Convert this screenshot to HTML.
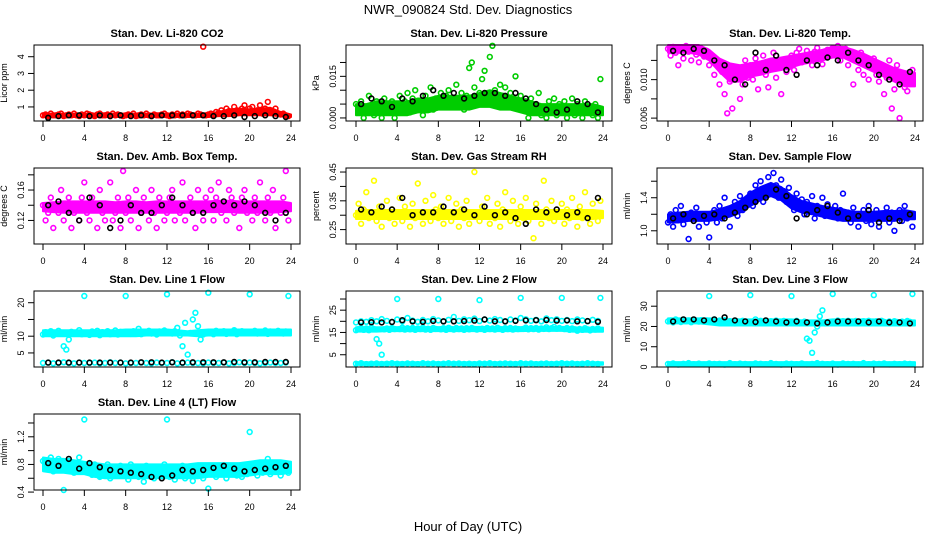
<!DOCTYPE html>
<html><head><meta charset="utf-8"><style>
html,body{margin:0;padding:0;background:#fff;}
svg{display:block;font-family:"Liberation Sans",sans-serif;}
</style></head><body>
<svg id="chart" width="936" height="540" viewBox="0 0 936 540">
<text x="468" y="14" text-anchor="middle" font-size="13">NWR_090824  Std. Dev. Diagnostics</text>
<text x="468" y="531" text-anchor="middle" font-size="13">Hour of Day (UTC)</text>
</svg>
<script>
const xTicks=[0,4,8,12,16,20,24];
const bandHours=[0,1,2,3,4,5,6,7,8,9,10,11,12,13,14,15,16,17,18,19,20,21,22,23,24];
const co2Red=[.5,.55,.45,.6,.5,.5,.55,.6,.45,.5,.55,.5,.6,.5,.45,.55,.5,.6,.55,.5,.45,.55,.6,.5,.5,.55,.45,.6,.5,.55,.5,.45,.5,.55,.5,.6,.45,.5,.55,.5,.6,.5,.45,.55,.5,.5,.55,.6,.5,.45,.55,.5,.6,.5,.55,.5,.6,.55,.5,.5,.6,.55,4.6,.5,.55,.6,.5,.7,.65,.8,.6,.9,.75,.7,1.0,.8,.65,.9,1.1,.7,.9,1.0,.75,.8,1.1,.6,.9,1.3,.8,.7,.9,.6,.55,.6,.5,.45];
const co2Black=[.35,.45,.5,.5,.45,.5,.45,.5,.45,.5,.45,.5,.5,.5,.5,.5,.45,.45,.5,.4,.45,.5,.45,.4];
const co2Lo=[.4,.4,.4,.4,.4,.4,.4,.4,.4,.4,.4,.4,.4,.4,.4,.4,.4,.45,.45,.5,.5,.5,.5,.45,.4];
const co2Hi=[.6,.6,.6,.6,.6,.6,.6,.6,.6,.6,.6,.6,.6,.6,.6,.6,.6,.7,.85,.9,.85,.9,.95,.7,.55];
const presGreen=[5,2,6,0,4,8,3,1,6,5,0,7,4,2,6,0,5,8,3,6,9,2,7,10,4,6,1,8,5,11,3,7,6,9,4,8,10,5,7,12,6,9,3,8,18,20,11,7,9,14,17,8,22,26,10,7,12,8,11,6,9,5,15,4,8,3,6,0,7,2,5,9,1,4,0,6,3,7,1,5,2,6,0,4,7,1,5,3,0,6,2,4,1,5,0,14];
const presBlack=[5,7,6,4,7,6,8,10,8,9,7,8,9,9,8,9,7,5,3,2,3,6,5,2];
const presLo=[1,1,1,1,1,1,2,2,3,3,3,3,4,4,3,3,2,1,1,1,1,1,1,1,1];
const presHi=[5,5,6,6,6,6,7,7,8,8,8,8,9,10,9,8,7,6,5,5,5,5,5,5,4];
const tempMag=[13.2,12.5,13.4,12.8,11.5,13.0,12.2,13.5,12.9,12.0,13.3,12.6,11.8,13.1,12.4,13.0,11.5,12.3,10.5,11.8,9.5,10.8,8.5,6.5,9.8,7.0,10.5,11.2,8.0,9.5,12.0,10.2,11.5,10.0,12.2,9.0,11.0,12.5,10.5,9.2,11.8,12.8,10.2,11.5,8.5,12.0,10.8,11.3,12.5,11.0,12.8,13.2,11.8,12.0,13.0,12.4,11.5,12.9,13.3,12.2,11.6,12.7,13.1,12.5,13.3,12.6,13.5,12.0,12.8,13.2,11.5,12.5,9.5,12.0,11.0,12.8,10.5,11.8,10.0,11.2,12.2,10.5,9.8,11.0,8.5,10.2,12.0,7.0,9.0,11.5,6.0,10.5,9.2,8.8,10.0,11.0];
const tempBlack=[13.0,12.8,13.2,13.0,12.0,11.5,10.0,9.5,12.8,11.0,12.5,11.0,10.5,12.0,11.5,12.3,12.0,12.8,12.0,11.5,10.5,10.0,9.5,10.8];
const tempLo=[12.8,12.8,12.8,12.6,12,10.8,9.8,9.8,10.3,10.5,10.8,11,11.3,11.6,11.8,12,12.3,12.3,11.8,11.3,10.8,10.3,9.8,9.3,9.3];
const tempHi=[13.6,13.6,13.6,13.6,13.1,12.2,11.7,11.5,11.7,11.9,12.2,12.3,12.5,12.7,12.9,13.1,13.4,13.4,13.1,12.7,12.2,11.7,11.2,10.9,10.7];
const ambMag=[.14,.12,.13,.15,.11,.14,.13,.16,.12,.14,.15,.11,.13,.14,.12,.15,.17,.13,.12,.15,.14,.11,.16,.13,.12,.14,.17,.12,.13,.15,.11,.185,.13,.15,.12,.14,.16,.11,.13,.15,.14,.12,.16,.13,.11,.15,.14,.12,.13,.15,.16,.12,.14,.13,.17,.12,.14,.15,.13,.11,.16,.14,.12,.15,.14,.16,.12,.15,.17,.13,.14,.12,.16,.15,.13,.14,.11,.15,.16,.13,.14,.12,.15,.13,.17,.14,.12,.15,.13,.16,.11,.14,.13,.15,.185,.12];
const ambBlack=[.14,.145,.13,.12,.15,.14,.11,.12,.14,.13,.13,.14,.15,.14,.13,.13,.14,.145,.14,.145,.14,.13,.12,.13];
const ambLo=[.132,.131,.13,.13,.13,.13,.13,.13,.13,.13,.13,.13,.13,.13,.13,.13,.131,.131,.131,.13,.13,.13,.13,.131,.132];
const ambHi=[.143,.144,.145,.145,.145,.145,.145,.144,.145,.145,.144,.145,.145,.145,.145,.145,.145,.146,.146,.145,.145,.145,.145,.145,.143];
const rhYellow=[.30,.34,.27,.32,.38,.29,.31,.42,.28,.33,.26,.30,.35,.29,.32,.27,.31,.36,.28,.33,.30,.26,.34,.29,.41,.31,.27,.35,.30,.28,.37,.32,.29,.33,.27,.31,.36,.28,.30,.34,.26,.32,.29,.35,.27,.31,.45,.30,.28,.33,.30,.36,.27,.31,.29,.34,.26,.32,.38,.30,.28,.35,.31,.27,.33,.29,.36,.28,.31,.22,.34,.30,.27,.42,.32,.29,.35,.28,.31,.30,.34,.27,.32,.29,.36,.30,.26,.33,.29,.38,.31,.27,.34,.30,.28,.35];
const rhBlack=[.32,.31,.33,.32,.36,.30,.31,.31,.33,.31,.32,.30,.33,.30,.31,.29,.27,.32,.31,.32,.30,.31,.29,.36];
const rhLo=[.287,.287,.287,.287,.287,.287,.287,.287,.287,.287,.287,.287,.287,.287,.287,.287,.287,.287,.287,.287,.287,.287,.287,.287,.29];
const rhHi=[.315,.318,.318,.318,.318,.318,.318,.318,.318,.318,.318,.318,.318,.318,.318,.318,.318,.318,.318,.318,.318,.318,.318,.318,.315];
const flowBlue=[1.10,1.20,1.05,1.25,1.15,1.30,1.08,1.18,0.90,1.22,1.12,1.28,1.05,1.15,1.20,1.10,0.92,1.18,1.25,1.10,1.30,1.15,1.40,1.22,1.05,1.28,1.35,1.18,1.42,1.25,1.30,1.38,1.45,1.30,1.55,1.40,1.60,1.35,1.50,1.65,1.45,1.70,1.55,1.40,1.62,1.48,1.35,1.52,1.40,1.25,1.45,1.30,1.38,1.20,1.35,1.28,1.42,1.15,1.30,1.22,1.40,1.18,1.32,1.25,1.20,1.30,1.15,1.25,1.45,1.18,1.22,1.10,1.28,1.15,1.05,1.20,1.25,1.12,1.30,1.08,1.18,1.25,1.05,1.20,1.15,1.28,1.10,1.22,1.00,1.18,1.25,1.12,1.30,1.15,1.20,1.05];
const flowBlack=[1.15,1.20,1.12,1.18,1.20,1.15,1.22,1.28,1.35,1.40,1.50,1.42,1.15,1.20,1.25,1.30,1.22,1.15,1.18,1.25,1.10,1.15,1.12,1.20];
const flowLo=[1.1,1.1,1.12,1.12,1.12,1.14,1.17,1.22,1.3,1.37,1.42,1.37,1.27,1.22,1.2,1.17,1.14,1.12,1.12,1.12,1.12,1.12,1.12,1.14,1.14];
const flowHi=[1.2,1.22,1.23,1.23,1.23,1.26,1.3,1.36,1.46,1.53,1.58,1.53,1.43,1.36,1.33,1.3,1.28,1.26,1.23,1.23,1.23,1.24,1.24,1.25,1.23];
const l1Cyan=[10.5,11.2,10.8,11.5,10.2,11.0,11.6,10.9,7,6,9,11.3,10.7,11.1,11.8,10.6,22,11.0,10.4,11.4,10.8,11.6,10.3,11.2,10.9,11.5,10.6,11.1,11.7,10.5,11.3,10.8,22,11.2,10.7,11.5,11.0,12.2,10.6,11.3,11.0,11.6,10.8,11.2,10.5,11.4,11.0,11.7,22.5,11.1,10.8,11.5,12.5,10.2,7.0,14,4.5,11,15,17,13,9,10.5,11.2,23,11.0,10.6,11.6,11.2,10.9,11.5,10.7,11.3,11.0,11.8,10.6,11.2,11.5,10.9,11.3,22.5,11.1,11.6,10.8,11.3,11.0,11.7,10.7,11.4,11.1,10.9,11.6,11.2,10.8,11.4,22];
const l1CyanLow=[2,2.1,1.9,2,2.2,2,1.9,2.1,2,2,2.1,1.9,2,2.2,2,2.1,1.9,2,2,2.1,2,1.9,2.1,2,2,2.2,1.9,2,2.1,2,2,1.9,2.1,2,2,2.1,1.9,2,2.2,2,2.1,2,1.9,2,2.1,2,2,2.1];
const l1Black=[2.1,2.1,2.1,2.1,2.1,2.1,2.1,2.1,2.1,2.2,2.2,2.1,2.2,2.1,2.2,2.2,2.2,2.2,2.3,2.2,2.2,2.3,2.3,2.3];
const l1Lo=[10,10,10,10,10,10,10,10,10,10,10.2,10.2,10.2,10.2,10.2,10,10.2,10.2,10.2,10.2,10.2,10.2,10.2,10.2,10.2];
const l1Hi=[11.8,11.8,11.8,11.8,11.8,11.8,11.8,11.8,12,12,12,12,12,11.8,11.5,11.8,12,12,12,12,12,12,12,12,12];
const l2Cyan=[16,16.5,17,16.2,16.8,16,17.2,16.5,12,10,5,16.4,16.8,16.2,17,16.5,30,16.5,17.2,16.3,16.9,16.4,17,16.2,16.8,16.5,17.1,16.3,16.7,16.2,17,16.6,30,16.4,16.9,16.2,17.1,16.6,16.3,17,16.5,16.8,16.2,16.9,16.4,17,16.6,16.3,29.5,16.7,16.2,17,16.5,16.8,16.3,17.1,16.6,16.2,16.9,16.5,17,16.3,16.8,16.5,30.5,16.6,17.2,16.4,16.9,16.5,17,16.3,16.8,16.6,17.3,16.5,16.9,17.5,16.7,17,30.5,16.5,17,16.2,16.8,16.4,15.8,16.6,16.2,16.9,16.4,15.9,16.6,16.3,16.8,30.5];
const l2CyanMid=[19.5,20,19.8,20.5,20,21,20.2,19.7,20.8,20,21.5,20.3,19.8,20.6,20,21,20.4,19.9,20.7,22,20.2,20.9,20.5,21.2,20.1,20.8,20.3,21,20.6,19.9,20.8,20.4,21.5,20.9,20.2,20.7,20,21.3,20.5,20.9,20.2,20.6,20.1,20.8,20.4,20,20.7,20.2];
const l2CyanLow=[1,1.2,0.8,1,1.1,0.9,1,1.2,1,0.9,1.1,1,0.8,1.2,1,1.1,0.9,1,1.2,1,1.1,0.9,1,0.8,1.1,1,1.2,0.9,1,1.1,1,0.9,1.2,1,1.1,0.8,1,1.1,0.9,1,1.2,1,1.1,0.9,1,1.2,1,0.9];
const l2Black=[19.5,19.6,19.5,19.7,20.5,20,19.8,20.2,20,20,20.1,20.3,20.8,20,20,20.2,20.4,20.5,20.6,20.3,20.4,20,20.1,19.8];
const l2Lo=[15.4,15.4,15.4,15.6,15.6,15.6,15.6,15.6,15.6,15.6,15.6,15.6,15.6,15.6,15.6,15.6,15.6,15.7,15.7,15.7,15.7,15.4,15.3,15.3,15.3];
const l2Hi=[17.3,17.3,17.3,17.4,17.4,17.4,17.4,17.4,17.4,17.4,17.4,17.4,17.5,17.4,17.4,17.4,17.4,17.5,17.5,17.5,17.5,17.3,17.2,17.2,17.2];
const l2LowLo=[0.5,0.5,0.5,0.5,0.5,0.5,0.5,0.5,0.5,0.5,0.5,0.5,0.5,0.5,0.5,0.5,0.5,0.5,0.5,0.5,0.5,0.5,0.5,0.5,0.5];
const l2LowHi=[1.6,1.6,1.6,1.6,1.6,1.6,1.6,1.6,1.6,1.6,1.6,1.6,1.6,1.6,1.6,1.6,1.6,1.6,1.6,1.6,1.6,1.6,1.6,1.6,1.6];
const l3Cyan=[22.5,23,22,23.5,22.8,22.2,23.4,22.6,23,22.1,23.3,22.7,22.4,23.1,22.5,23,35,22.8,23.5,22.2,22.9,22.4,23.1,22,22.6,22.3,21.5,22.5,22,22.8,22.2,21.8,35.5,22.5,23.5,22.1,22.8,22.3,22.9,22,22.6,22.2,22.9,22.4,22,22.7,22.3,21.9,35,22.3,22.8,21.5,21.9,22.4,14,13,7,17,20,25,28,21.5,22,21.6,36,22.3,22.9,22.1,22.6,22.2,22.8,22.4,22,22.7,22.3,21.9,22.6,22.1,22.8,22.3,35.5,22.6,22.1,22.8,22.3,21.7,22.5,22,22.6,22.2,21.8,22.4,22,22.7,22.3,36];
const l3CyanLow=[1.5,1.8,1.2,1.6,1.9,1.4,1.7,1.3,1.8,1.5,1.6,1.2,1.9,1.4,1.7,1.5,1.3,1.8,1.6,1.4,1.9,1.5,1.2,1.7,1.6,1.4,1.8,1.3,1.5,1.9,1.6,1.4,1.7,1.2,1.8,1.5,1.6,1.3,1.9,1.4,1.7,1.5,1.8,1.3,1.6,1.4,1.7,1.5];
const l3Black=[22.5,23.5,23.5,23,23.5,24.5,23,22.5,22.2,23,22.5,22,22.5,22,21.5,22,22.5,22.5,22.5,22,22.5,22,22,21.5];
const l3Lo=[21.5,21.5,21.5,21.5,21,20.5,20.5,20.5,20.5,20.5,20.5,20.5,20.5,20.5,20.5,20.5,20.5,20.5,20.5,20.5,20.5,20.5,20.5,20.5,20.5];
const l3Hi=[24,24,24,24,24,23.5,23.5,23.5,23.5,23.5,23.5,23.5,23.5,23,23,23,23.5,23.5,23.5,23.5,23.5,23,23,23,23];
const l3LowLo=[0.7,0.7,0.7,0.7,0.7,0.7,0.7,0.7,0.7,0.7,0.7,0.7,0.7,0.7,0.7,0.7,0.7,0.7,0.7,0.7,0.7,0.7,0.7,0.7,0.7];
const l3LowHi=[2.4,2.4,2.4,2.4,2.4,2.4,2.4,2.4,2.4,2.4,2.4,2.4,2.4,2.4,2.4,2.4,2.4,2.4,2.4,2.4,2.4,2.4,2.4,2.4,2.4];
const l4Cyan=[.85,.8,.75,.9,.7,.82,.88,.78,.43,.72,.85,.8,.68,.76,.9,.74,1.45,.7,.78,.65,.8,.72,.62,.76,.68,.8,.6,.74,.7,.66,.78,.64,.72,.58,.8,.68,.75,.62,.7,.55,.78,.66,.72,.6,.76,.68,.64,.8,1.45,.62,.74,.58,.7,.66,.78,.6,.72,.68,.56,.76,.64,.7,.6,.74,.45,.68,.78,.62,.72,.66,.76,.6,.7,.68,.74,.64,.78,.62,.72,.66,1.27,.7,.76,.64,.8,.68,.72,.88,.66,.74,.7,.78,.64,.72,.8,.68];
const l4Black=[.82,.78,.88,.74,.82,.76,.72,.7,.68,.66,.62,.6,.64,.72,.7,.72,.75,.78,.74,.7,.72,.74,.76,.78];
const l4Lo=[.7,.68,.68,.66,.66,.62,.6,.6,.6,.6,.6,.6,.6,.6,.6,.6,.62,.62,.62,.62,.64,.66,.66,.66,.68];
const l4Hi=[.9,.88,.88,.86,.84,.82,.8,.8,.8,.8,.8,.8,.8,.8,.8,.82,.82,.82,.82,.82,.84,.86,.86,.86,.84];

const NS='http://www.w3.org/2000/svg';
const svg=document.getElementById('chart');
function mk(tag,attrs,parent){const e=document.createElementNS(NS,tag);for(const k in attrs)e.setAttribute(k,attrs[k]);(parent||svg).appendChild(e);return e;}
const cols=[{bx0:34,bx1:300,h0:43,h24:291},{bx0:346,bx1:612,h0:356,h24:603},{bx0:657,bx1:923,h0:668,h24:915}];
const rows=[{top:45,bot:121},{top:168,bot:244},{top:291,bot:367},{top:414,bot:490}];
const panels=[
 {r:0,c:0,title:'Stan. Dev. Li-820 CO2',ylab:'Licor ppm',ymin:0.16,ymax:4.7,ticks:[1,2,3,4],labels:['1','2','3','4'],bands:[[co2Lo,co2Hi,'#ff0000',1]],series:[[co2Red,'#ff0000',1],[co2Black,'#000000',1]]},
 {r:0,c:1,title:'Stan. Dev. Li-820 Pressure',ylab:'kPa',ymin:-0.0011,ymax:0.0263,ticks:[0,0.005,0.01,0.015,0.02],labels:['0.000','','','0.015',''],bands:[[presLo,presHi,'#00cd00',0.001]],series:[[presGreen,'#00cd00',0.001],[presBlack,'#000000',0.001]]},
 {r:0,c:2,title:'Stan. Dev. Li-820 Temp.',ylab:'degrees C',ymin:0.0057,ymax:0.0136,ticks:[0.006,0.008,0.010,0.012],labels:['0.006','','0.010',''],bands:[[tempLo,tempHi,'#ff00ff',0.001]],series:[[tempMag,'#ff00ff',0.001],[tempBlack,'#000000',0.001]]},
 {r:1,c:0,title:'Stan. Dev. Amb. Box Temp.',ylab:'degrees C',ymin:0.089,ymax:0.189,ticks:[0.12,0.14,0.16,0.18],labels:['0.12','','0.16',''],bands:[[ambLo,ambHi,'#ff00ff',1]],series:[[ambMag,'#ff00ff',1],[ambBlack,'#000000',1]]},
 {r:1,c:1,title:'Stan. Dev. Gas Stream RH',ylab:'percent',ymin:0.20,ymax:0.464,ticks:[0.25,0.3,0.35,0.4,0.45],labels:['0.25','','0.35','','0.45'],bands:[[rhLo,rhHi,'#ffff00',1]],series:[[rhYellow,'#ffff00',1],[rhBlack,'#000000',1]]},
 {r:1,c:2,title:'Stan. Dev. Sample Flow',ylab:'ml/min',ymin:0.84,ymax:1.76,ticks:[1.0,1.2,1.4,1.6],labels:['1.0','','1.4',''],bands:[[flowLo,flowHi,'#0000ff',1]],series:[[flowBlue,'#0000ff',1],[flowBlack,'#000000',1]]},
 {r:2,c:0,title:'Stan. Dev. Line 1 Flow',ylab:'ml/min',ymin:0.8,ymax:23.5,ticks:[5,10,15,20],labels:['5','10','','20'],bands:[[l1Lo,l1Hi,'#00ffff',1]],series:[[l1Cyan,'#00ffff',1],[l1CyanLow,'#00ffff',1],[l1Black,'#000000',1]]},
 {r:2,c:1,title:'Stan. Dev. Line 2 Flow',ylab:'ml/min',ymin:-0.5,ymax:33.6,ticks:[5,10,15,20,25,30],labels:['5','','15','','25',''],bands:[[l2Lo,l2Hi,'#00ffff',1],[l2LowLo,l2LowHi,'#00ffff',1]],series:[[l2Cyan,'#00ffff',1],[l2CyanMid,'#00ffff',1],[l2CyanLow,'#00ffff',1],[l2Black,'#000000',1]]},
 {r:2,c:2,title:'Stan. Dev. Line 3 Flow',ylab:'ml/min',ymin:0,ymax:37.5,ticks:[0,10,20,30],labels:['0','10','20','30'],bands:[[l3Lo,l3Hi,'#00ffff',1],[l3LowLo,l3LowHi,'#00ffff',1]],series:[[l3Cyan,'#00ffff',1],[l3CyanLow,'#00ffff',1],[l3Black,'#000000',1]]},
 {r:3,c:0,title:'Stan. Dev. Line 4 (LT) Flow',ylab:'ml/min',ymin:0.43,ymax:1.53,ticks:[0.4,0.6,0.8,1.0,1.2,1.4],labels:['0.4','','0.8','','1.2',''],bands:[[l4Lo,l4Hi,'#00ffff',1]],series:[[l4Cyan,'#00ffff',1],[l4Black,'#000000',1]]}
];
panels.forEach((p,pi)=>{
 const C=cols[p.c],R=rows[p.r];
 const g=mk('g',{});
 
 
 const xs=h=>C.h0+(C.h24-C.h0)*h/24;
 const ys=v=>R.bot-(R.bot-R.top)*(v-p.ymin)/(p.ymax-p.ymin);
 const t=mk('text',{x:(C.bx0+C.bx1)/2,y:R.top-8,'text-anchor':'middle','font-size':'11','font-weight':'bold'},g);
 t.textContent=p.title;
 
 
 const cx=C.bx0-27,cy=(R.top+R.bot)/2;
 const yl=mk('text',{x:cx,y:cy,'text-anchor':'middle','font-size':'9',transform:`rotate(-90 ${cx} ${cy})`},g);
 yl.textContent=p.ylab;
 
 
 p.bands.forEach(b=>{
  const lo=b[0],hi=b[1];
  const pts=bandHours.map((h,i)=>xs(h).toFixed(1)+','+ys(hi[i]*b[3]).toFixed(1))
   .concat(bandHours.slice().reverse().map((h,j)=>{const i=bandHours.length-1-j;return xs(h).toFixed(1)+','+ys(lo[i]*b[3]).toFixed(1);}));
  const poly=mk('polygon',{points:pts.join(' '),fill:b[2],stroke:b[2],'stroke-width':2,'stroke-linejoin':'round'},g);
  
  
 });
 p.series.forEach(s=>{
  const vals=s[0],n=vals.length,off=n===24?0.5:0;
  vals.forEach((v,i)=>{
   const h=n===24? i+off : i*24/n;
   const c=mk('circle',{cx:xs(h).toFixed(1),cy:ys(v*s[2]).toFixed(1),r:2.4,fill:'none',stroke:s[1],'stroke-width':1.6},g);
   
   
  });
 });
 const box=mk('rect',{x:C.bx0,y:R.top,width:C.bx1-C.bx0,height:R.bot-R.top,fill:'none',stroke:'#000','stroke-width':1},g);
 
 
 xTicks.forEach(h=>{
  mk('line',{x1:xs(h),x2:xs(h),y1:R.bot,y2:R.bot+6,stroke:'#000'},g);
  const tl=mk('text',{x:xs(h),y:R.bot+20,'text-anchor':'middle','font-size':'9'},g);
  tl.textContent=h;
  
  
 });
 p.ticks.forEach((v,i)=>{
  const y=ys(v);
  mk('line',{x1:C.bx0-6,x2:C.bx0,y1:y,y2:y,stroke:'#000'},g);
  if(p.labels[i]){
   const lx=C.bx0-10;
   const tl=mk('text',{x:lx,y:y,'text-anchor':'middle','font-size':'9',transform:`rotate(-90 ${lx} ${y})`},g);
   tl.textContent=p.labels[i];
   
   
  }
 });
});
</script>
</body></html>
